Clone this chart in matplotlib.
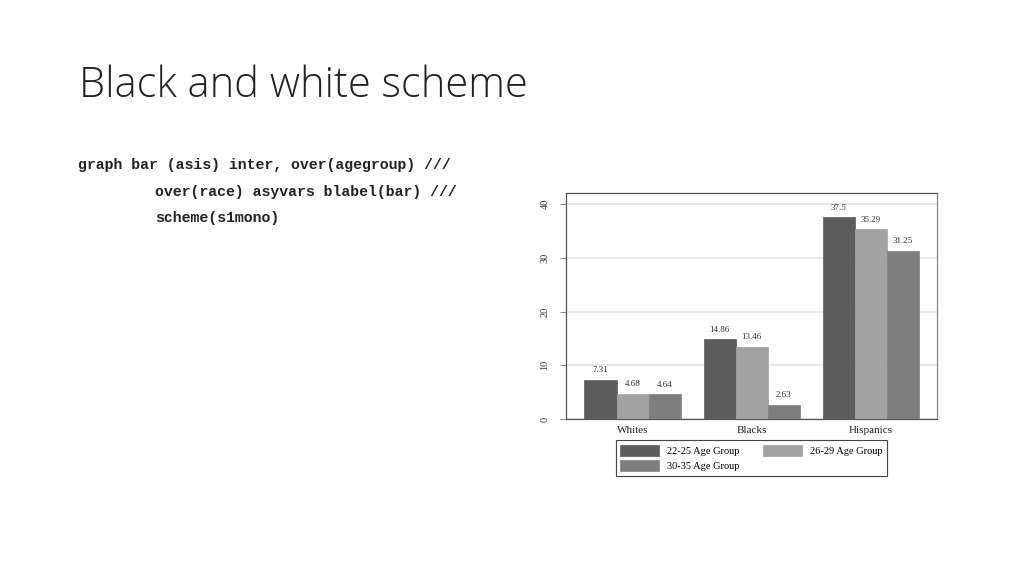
import matplotlib
matplotlib.use("Agg")
import matplotlib.pyplot as plt
import numpy as np

# data
races = ["Whites", "Blacks", "Hispanics"]
age_groups = ["22-25 Age Group", "26-29 Age Group", "30-35 Age Group"]
v_22_25 = [7.31, 14.86, 37.5]
v_26_29 = [4.68, 13.46, 35.29]
v_30_35 = [4.64, 2.63, 31.25]
yticks = [0, 10, 20, 30, 40]

DARK, LIGHT, MID = "#5c5c5c", "#a2a2a2", "#7e7e7e"
SERIF = "Liberation Serif"
W, H = 1024, 576

fig = plt.figure(figsize=(W / 100, H / 100), dpi=100)
fig.patch.set_facecolor("white")

# slide title + the Stata command
fig.text(79 / W, 1 - 86 / H, "Black and white scheme", fontsize=30,
         family="Open Sans", weight="light", color="#222222", va="center")
code = ["graph bar (asis) inter, over(agegroup) ///",
        "over(race) asyvars blabel(bar) ///",
        "scheme(s1mono)"]
code_x = [78, 155, 155]
code_y = [165, 192, 218]
for s, x, y in zip(code, code_x, code_y):
    fig.text(x / W, 1 - y / H, s, fontsize=10.7, family="Liberation Mono",
             weight="bold", color="#222222", va="center")

# the chart
ax = fig.add_axes([566 / W, 1 - 419 / H, (937 - 566) / W, (419 - 193) / H])
x = np.arange(len(races))
bw = 0.27
series = [v_22_25, v_26_29, v_30_35]
colors = [DARK, LIGHT, MID]
handles = []
for i, (vals, c, lab) in enumerate(zip(series, colors, age_groups)):
    bars = ax.bar(x + (i - 1) * bw, vals, bw, color=c, label=lab,
                  edgecolor=c, lw=0.5, zorder=3)
    handles.append(bars)
    for b, v in zip(bars, vals):
        ax.annotate(f"{v:g}", (b.get_x() + b.get_width() / 2, v),
                    textcoords="offset points", xytext=(0, 4), ha="center",
                    va="bottom", fontsize=6.5, family=SERIF, color="#333333")

ax.set_xlim(-0.56, 2.555)
ax.set_ylim(0, 42.05)
ax.set_yticks(yticks)
ax.set_yticklabels([str(t) for t in yticks], rotation=90, va="center",
                   family=SERIF, fontsize=7.5, color="#333333")
ax.set_xticks(x)
ax.set_xticklabels(races, family=SERIF, fontsize=8, color="#222222")
ax.tick_params(axis="x", length=0, pad=5)
ax.tick_params(axis="y", length=4, width=0.6, color="#777777", pad=8)
ax.yaxis.grid(True, color="#e2e2e2", lw=1.2, zorder=0)
ax.set_axisbelow(True)
for side, sp in ax.spines.items():
    sp.set_linewidth(0.9)
    sp.set_color("#555555")
ax.spines["right"].set_color("#888888")

# legend filled row-wise like Stata: 22-25, 26-29 / 30-35
order = [0, 2, 1]
leg = fig.legend([handles[i] for i in order], [age_groups[i] for i in order],
                 loc="upper center", bbox_to_anchor=(751.5 / W, 1 - 440 / H),
                 ncol=2, prop={"family": SERIF, "size": 7.5}, fancybox=False,
                 edgecolor="#444444", framealpha=1, handlelength=3.7,
                 handleheight=1.3, columnspacing=2.3, borderpad=0.45,
                 labelspacing=0.35, borderaxespad=0)
leg.get_frame().set_linewidth(0.8)

fig.savefig("out.png", dpi=100)
